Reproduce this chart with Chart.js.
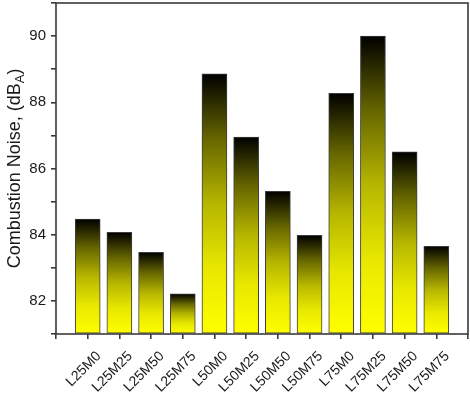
<!DOCTYPE html>
<html>
<head>
<meta charset="utf-8">
<script src="https://cdn.jsdelivr.net/npm/chart.js@4.4.1/dist/chart.umd.min.js"></script>
<style>
  body { margin: 0; background: #fff; }
  #wrap { width: 470px; height: 398px; }
</style>
</head>
<body>
<div id="wrap"><canvas id="noise" width="470" height="398"></canvas></div>
<script>
// combustion noise per blend
const categories = ['L25M0', 'L25M25', 'L25M50', 'L25M75', 'L50M0', 'L50M25', 'L50M50', 'L50M75', 'L75M0', 'L75M25', 'L75M50', 'L75M75'];
const noise = [84.47, 84.07, 83.47, 82.21, 88.86, 86.95, 85.31, 83.98, 88.27, 90.0, 86.5, 83.65];
const yTicks = [82, 84, 86, 88, 90];

const FONT = "'Liberation Sans', Arial, sans-serif";
const INK = '#1a1a1a';

// empty slot at each end so the bars sit 1..12 on a 0..13 axis
const labels = [''].concat(categories, ['']);
const values = [null].concat(noise, [null]);

function barFill(c) {
  const chart = c.chart;
  const area = chart.chartArea;
  if (!area || c.raw == null || !chart.scales.y) return '#ffff00';
  const top = chart.scales.y.getPixelForValue(c.raw);
  const g = chart.ctx.createLinearGradient(0, top, 0, area.bottom);
  g.addColorStop(0, '#000000');
  g.addColorStop(0.25, '#666600');
  g.addColorStop(0.5, '#b6b600');
  g.addColorStop(0.75, '#e8e800');
  g.addColorStop(1, '#ffff00');
  return g;
}

function noPad(s) {
  s.paddingTop = 0;
  s.paddingBottom = 0;
  s.paddingLeft = 0;
  s.paddingRight = 0;
}

const framePlugin = {
  id: 'frame',
  afterDraw(chart) {
    const a = chart.chartArea;
    const ctx = chart.ctx;
    ctx.save();
    ctx.strokeStyle = '#3a3a3a';
    ctx.lineWidth = 1.6;
    ctx.strokeRect(a.left, a.top, a.right - a.left, a.bottom - a.top);

    // y title with subscript A
    const main = 'Combustion Noise, (dB';
    const sub = 'A';
    const tail = ')';
    ctx.fillStyle = INK;
    ctx.textBaseline = 'middle';
    ctx.textAlign = 'left';
    ctx.font = '18px ' + FONT;
    const w1 = ctx.measureText(main).width;
    const w3 = ctx.measureText(tail).width;
    ctx.font = '13px ' + FONT;
    const w2 = ctx.measureText(sub).width;
    const total = w1 + w2 + w3;
    ctx.translate(15, (a.top + a.bottom) / 2);
    ctx.rotate(-Math.PI / 2);
    let x = -total / 2;
    ctx.font = '18px ' + FONT;
    ctx.fillText(main, x, 0);
    x += w1;
    ctx.font = '13px ' + FONT;
    ctx.fillText(sub, x, 5);
    x += w2;
    ctx.font = '18px ' + FONT;
    ctx.fillText(tail, x, 0);
    ctx.restore();
  }
};

new Chart(document.getElementById('noise'), {
  type: 'bar',
  data: {
    labels: labels,
    datasets: [{
      data: values,
      base: 81,
      backgroundColor: barFill,
      borderColor: '#3c3c3c',
      borderWidth: 1,
      borderSkipped: false,
      barThickness: 25
    }]
  },
  options: {
    responsive: false,
    animation: false,
    layout: { padding: { left: 0, top: 3, right: 2, bottom: 0 } },
    plugins: {
      legend: { display: false },
      tooltip: { enabled: false }
    },
    scales: {
      x: {
        offset: false,
        afterFit(s) { s.height = 64; noPad(s); },
        border: { display: false },
        grid: { offset: false, drawOnChartArea: false, drawTicks: true, tickLength: 5, color: '#3a3a3a', lineWidth: 1.6 },
        ticks: {
          autoSkip: false,
          minRotation: 45,
          maxRotation: 45,
          color: INK,
          padding: 9,
          labelOffset: 11,
          font: { family: FONT, size: 14 }
        }
      },
      y: {
        min: 81,
        max: 91,
        afterFit(s) { s.width = 56; noPad(s); },
        border: { display: false },
        grid: { drawOnChartArea: false, drawTicks: true, tickLength: 5, color: '#3a3a3a', lineWidth: 1.6 },
        ticks: {
          stepSize: 1,
          color: INK,
          padding: 5,
          font: { family: FONT, size: 15 },
          callback: v => yTicks.includes(v) ? v : ''
        }
      }
    }
  },
  plugins: [framePlugin]
});
</script>
</body>
</html>
